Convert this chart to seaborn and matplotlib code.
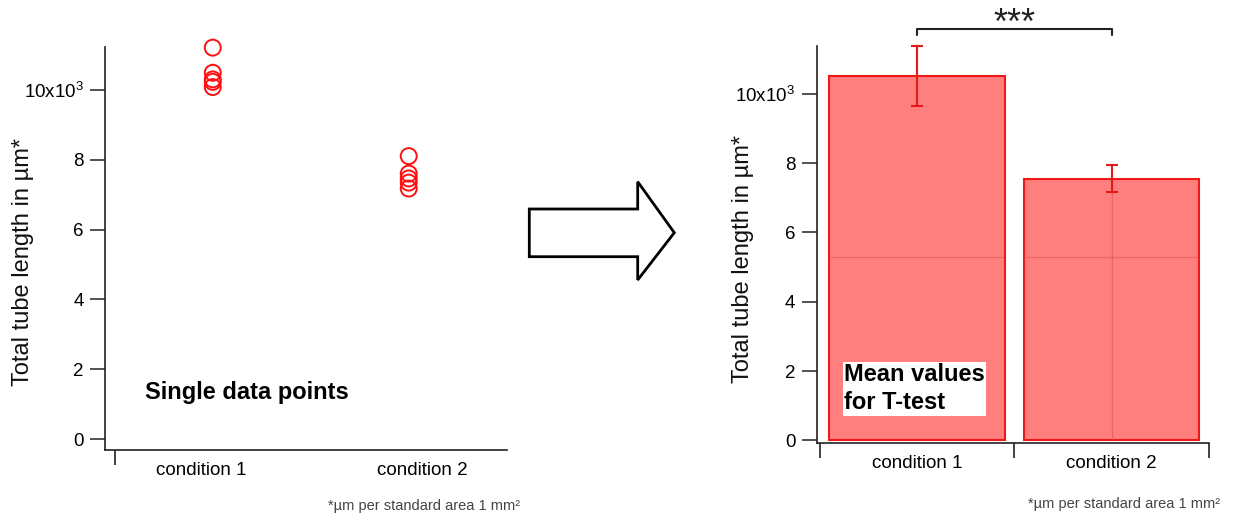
import matplotlib
matplotlib.use("Agg")
import matplotlib.pyplot as plt
import matplotlib.transforms as mtransforms
from matplotlib.patches import Polygon
import pandas as pd
import seaborn as sns

# ---------------- data ----------------
categories = ["condition 1", "condition 2"]
cond1_points = [11.22, 10.50, 10.31, 10.24, 10.09]
cond2_points = [8.11, 7.61, 7.47, 7.35, 7.18]
bar_means = [10.52, 7.55]
bar_errors = [0.86, 0.39]
y_ticks = [0, 2, 4, 6, 8, 10]
y_ticklabels = ["0", "2", "4", "6", "8", "10x10$^{3}$"]
sig_label = "***"
sig_y = 11.88
sig_drop = 0.19
inner_line_y = 5.28
ylabel = "Total tube length in µm*"
footnote = "*µm per standard area 1 mm²"
left_note = "Single data points"
right_note = "Mean values\nfor T-test"

# ---------------- style ----------------
sns.set_style("ticks")
plt.rcParams["font.family"] = ["Liberation Sans", "DejaVu Sans"]
plt.rcParams["mathtext.fontset"] = "custom"
plt.rcParams["mathtext.rm"] = "Liberation Sans"
plt.rcParams["mathtext.it"] = "Liberation Sans:italic"
plt.rcParams["mathtext.bf"] = "Liberation Sans:bold"

W, H = 1235, 516
fig = plt.figure(figsize=(W / 100, H / 100), dpi=100)

def fx(px):
    return px / W

def fy(py):
    return 1 - py / H

AX_COLOR = "#222222"

# ---------------- left: single points ----------------
ax1 = fig.add_axes([fx(105), fy(450), (506.7 - 105) / W, (450 - 47.3) / H])
df_points = pd.DataFrame({
    "condition": [categories[0]] * len(cond1_points) + [categories[1]] * len(cond2_points),
    "length": cond1_points + cond2_points,
})
sns.stripplot(data=df_points, x="condition", y="length", ax=ax1, jitter=False,
              size=11.5, marker="o", color="red", linewidth=1.4)
for coll in ax1.collections:
    coll.set_facecolor("none")
    coll.set_edgecolor("#ff1010")
    coll.set_linewidth(1.4)
    coll.set_clip_on(False)

ax1.set_xlim(-0.55, 1.5)
ax1.set_ylim(-0.315, 11.23)

# ---------------- right: mean bars ----------------
ax2 = fig.add_axes([fx(816.7), fy(442.7), (1209 - 816.7) / W, (442.7 - 45.8) / H])
df_bars = pd.DataFrame({"condition": categories, "mean": bar_means})
sns.barplot(data=df_bars, x="condition", y="mean", ax=ax2, color="#ff7f7f",
            saturation=1, edgecolor="#f01818", linewidth=1.5, width=0.9, errorbar=None)
ax2.errorbar(x=list(range(len(categories))), y=bar_means, yerr=bar_errors, fmt="none",
             ecolor="#e31a1a", elinewidth=1.5, capsize=4.5, capthick=1.5, zorder=5,
             clip_on=False)

# faint internal lines inside the bars
bars = ax2.patches
for p in bars:
    ax2.plot([p.get_x() + 0.01, p.get_x() + p.get_width() - 0.01], [inner_line_y, inner_line_y],
             color="#e05555", lw=1, alpha=0.6, zorder=3)
p2 = bars[1]
ax2.plot([p2.get_x() + p2.get_width() / 2] * 2, [0.05, p2.get_height() - 0.05],
         color="#e05555", lw=1, alpha=0.6, zorder=3)

ax2.set_xlim(-0.515, 1.5)
ax2.set_ylim(-0.07, 11.39)

# significance bracket
ax2.plot([0, 0, 1, 1], [sig_y - sig_drop, sig_y, sig_y, sig_y - sig_drop],
         color=AX_COLOR, lw=1.5, clip_on=False)
ax2.text(0.5, sig_y + 0.13, sig_label, ha="center", va="center", fontsize=26,
         color=AX_COLOR, clip_on=False)

ax2.text(-0.375, 1.49, right_note, ha="left", va="center", fontsize=17,
         fontweight="bold", color="black", linespacing=1.3,
         bbox=dict(boxstyle="square,pad=0.06", fc="white", ec="none"), zorder=6)

ax1.text(-0.348, 1.32, left_note, ha="left", va="center", fontsize=17,
         fontweight="bold", color="black")

# ---------------- shared axis styling ----------------
for ax, xminor, xpad, lab_x, lab_y in [
    (ax1, [-0.5], 8.5, -0.177, 0.467),
    (ax2, [-0.5, 0.5, 1.5], 9, -0.16, 0.463),
]:
    sns.despine(ax=ax)
    ax.spines["left"].set_color(AX_COLOR)
    ax.spines["bottom"].set_color(AX_COLOR)
    ax.spines["left"].set_linewidth(1.2)
    ax.spines["bottom"].set_linewidth(1.2)
    ax.set_yticks(y_ticks)
    ax.set_yticklabels(y_ticklabels)
    ax.tick_params(axis="y", length=10.5, width=1.1, pad=4.8, labelsize=13.5,
                   color=AX_COLOR, labelcolor="black")
    ax.set_xticks(range(len(categories)))
    ax.set_xticklabels(categories)
    ax.set_xticks(xminor, minor=True)
    ax.tick_params(axis="x", which="major", length=0, pad=xpad, labelsize=13.5,
                   labelcolor="black")
    ax.tick_params(axis="x", which="minor", length=10.5, width=1.2, color=AX_COLOR)
    ax.set_xlabel("")
    ax.set_ylabel(ylabel, fontsize=17, color="#111111")
    ax.yaxis.set_label_coords(lab_x, lab_y)

# left plot labels are offset from the point columns
offsets = [-12, 14]
for lab, off in zip(ax1.get_xticklabels(), offsets):
    lab.set_transform(lab.get_transform() +
                      mtransforms.ScaledTranslation(off / 100, 0, fig.dpi_scale_trans))

# ---------------- arrow between panels ----------------
arrow_px = [(529.3, 209), (637.7, 209), (637.7, 181.7), (674.3, 232.7),
            (637.7, 280), (637.7, 256.7), (529.3, 256.7)]
arrow = Polygon([(fx(x), fy(y)) for x, y in arrow_px], closed=True, fc="white",
                ec="black", lw=2, transform=fig.transFigure, joinstyle="miter")
fig.add_artist(arrow)

# ---------------- footnotes ----------------
fig.text(fx(424), fy(506), footnote, ha="center", va="center", fontsize=10.5, color="#444444")
fig.text(fx(1124), fy(504), footnote, ha="center", va="center", fontsize=10.5, color="#444444")

fig.savefig("out.png", dpi=100)
